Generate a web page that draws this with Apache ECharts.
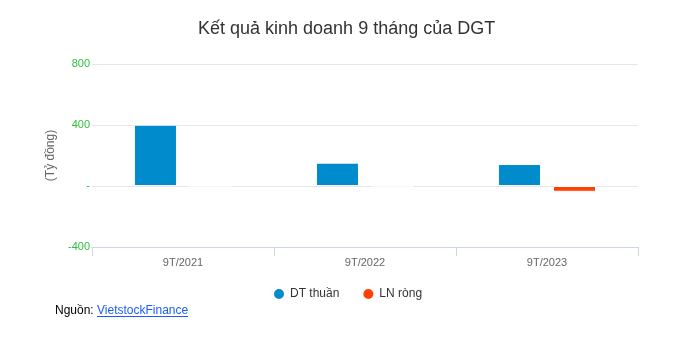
<!DOCTYPE html>
<html><head><meta charset="utf-8">
<script src="https://cdn.jsdelivr.net/npm/echarts@6/dist/echarts.min.js"></script>
<style>html,body{margin:0;padding:0;background:#fff}#c{width:695px;height:346px}</style>
</head><body><div id="c"></div>
<script>
var categories = ['9T/2021', '9T/2022', '9T/2023'];
var dtThuan = [402, 153, 144];
var lnRong = [1, 0.5, -38];
var yTicks = [-400, 0, 400, 800];

var chart = echarts.init(document.getElementById('c'), null, {renderer: 'canvas'});
var font = 'Helvetica, Arial, "Liberation Sans", sans-serif';
chart.setOption({
  animation: false,
  textStyle: {fontFamily: font},
  title: {text: 'Kết quả kinh doanh 9 tháng của DGT', left: 193, top: 15,
    textStyle: {fontSize: 18, fontWeight: 'normal', color: '#333', fontFamily: font}},
  legend: {data: ['DT thuần', 'LN ròng'], top: 282, left: 267, icon: 'circle',
    itemWidth: 12, itemHeight: 12, itemGap: 22,
    textStyle: {fontSize: 12, color: '#333', fontFamily: font}},
  grid: {left: 92, right: 57, top: 64, bottom: 99},
  xAxis: {type: 'category', data: categories,
    axisLine: {onZero: false, lineStyle: {color: '#ccd6eb'}},
    axisTick: {show: true, length: 9, lineStyle: {color: '#ccd6eb'}},
    axisLabel: {color: '#666', fontSize: 11, margin: 10, fontFamily: font}},
  yAxis: {type: 'value', min: yTicks[0], max: yTicks[yTicks.length - 1], interval: 400,
    name: '(Tỷ đồng)', nameLocation: 'middle', nameGap: 31,
    nameTextStyle: {color: '#666', fontSize: 12, fontFamily: font},
    axisLine: {show: false}, axisTick: {show: false},
    splitLine: {lineStyle: {color: '#e6e6e6'}},
    axisLabel: {color: '#2ebd3a', fontSize: 11, margin: 2, fontFamily: font,
      formatter: function (v) { return v === 0 ? '-' : String(v); }}},
  series: [
    {name: 'DT thuần', type: 'bar', data: dtThuan, barWidth: 43, barGap: '28%',
      itemStyle: {color: '#008bcc', borderColor: '#fff', borderWidth: 1}},
    {name: 'LN ròng', type: 'bar', data: lnRong, barWidth: 43,
      itemStyle: {color: '#ff4000', borderColor: '#fff', borderWidth: 1}}
  ],
  graphic: [
    {type: 'text', left: 55, top: 305, style: {text: 'Nguồn: ', fill: '#000', fontSize: 12, fontFamily: font}},
    {type: 'text', left: 97, top: 305, style: {text: 'VietstockFinance', fill: '#1a5cff', fontSize: 12, fontFamily: font}},
    {type: 'line', shape: {x1: 97, y1: 316.5, x2: 188, y2: 316.5}, style: {stroke: '#1a5cff', lineWidth: 1}}
  ]
});
</script></body></html>
